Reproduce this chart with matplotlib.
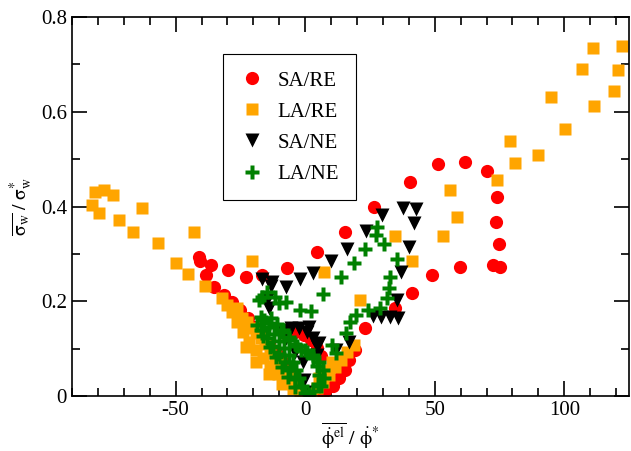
import matplotlib
matplotlib.use('Agg')
import matplotlib.pyplot as plt
from matplotlib.ticker import MultipleLocator

plt.rcParams['font.family'] = ['Liberation Serif', 'DejaVu Serif']
plt.rcParams['mathtext.fontset'] = 'stix'
plt.rcParams['axes.unicode_minus'] = False

# SA/RE (red circles)
sa_re_x = [-41.1, -36.4, -29.8, -22.9, -16.7, -7.0, 4.7, 15.5, 26.7, 40.3, 51.2, 61.6, 70.2,
           74.0, 73.6, 74.8, 72.5, 75.2, 59.7, 48.8, 41.1, 34.5, 22.9,
           -40.7, -38.4, -35.3, -31.4, -28.3, -25.2, -22.1, -19.4, -16.7, -14.0, -11.2, -8.5,
           -6.2, -3.9, -1.6, 1.6, 4.7, 7.8, 10.9, 13.2, 15.5, 17.1, 19.4,
           -7.0, -3.9, -0.4, 2.3, 4.7, 6.2]
sa_re_y = [0.294, 0.277, 0.266, 0.252, 0.256, 0.271, 0.303, 0.347, 0.400, 0.451, 0.489, 0.495, 0.476,
           0.421, 0.368, 0.320, 0.277, 0.273, 0.273, 0.256, 0.218, 0.186, 0.144,
           0.284, 0.256, 0.231, 0.214, 0.199, 0.182, 0.165, 0.146, 0.129, 0.112, 0.093, 0.072,
           0.051, 0.032, 0.015, 0.002, 0.004, 0.011, 0.021, 0.038, 0.055, 0.076, 0.097,
           0.129, 0.135, 0.129, 0.119, 0.102, 0.085]

# LA/RE (orange squares)
la_re_x = [-81.0, -77.5, -74.0, -82.2, -79.5, -71.7, -62.8, -66.3, -56.6, -50.0, -45.3, -43.0,
           -38.8, -32.2, -26.4, -20.5, -30.2, -28.3,
           -24.4, -22.5, -20.9, -19.0, -17.1, -15.5, -13.6, -11.6, -9.7, -7.8, -5.8, -3.9, -1.9,
           -26.4, -24.0, -21.7, -19.0, -16.3, -13.6, -10.5, -7.4, -4.7,
           -22.9, -19.0, -14.0, -8.9,
           2.3, 4.7, 7.0, 9.3, 11.6, 14.0, 16.3, 19.0, 5.4, 8.1, 10.5,
           21.3, 7.4, 34.5, 41.1, 53.1, 58.5, 55.8, 74.0, 81.0, 89.9, 79.1, 100.4, 95.0,
           111.6, 119.0, 107.0, 120.9, 111.2, 122.1]
la_re_y = [0.430, 0.436, 0.425, 0.404, 0.387, 0.372, 0.398, 0.347, 0.322, 0.281, 0.258, 0.347,
           0.233, 0.207, 0.186, 0.284, 0.193, 0.178,
           0.165, 0.157, 0.144, 0.133, 0.123, 0.110, 0.097, 0.083, 0.068, 0.053, 0.038, 0.023, 0.011,
           0.157, 0.135, 0.114, 0.097, 0.080, 0.063, 0.047, 0.030, 0.015,
           0.104, 0.072, 0.047, 0.025,
           0.008, 0.017, 0.030, 0.044, 0.061, 0.076, 0.093, 0.108, 0.038, 0.055, 0.072,
           0.203, 0.262, 0.337, 0.284, 0.337, 0.379, 0.436, 0.457, 0.491, 0.508, 0.538, 0.563, 0.631,
           0.612, 0.643, 0.690, 0.688, 0.734, 0.739]

# SA/NE (black triangles)
sa_ne_x = [29.5, 37.6, 42.6, 41.9, 23.6, 16.3, 39.9, 10.1, 36.8, 3.1, -1.9, -7.4, -12.8, -16.7,
           -13.2, 35.3, 32.9, 29.1, 26.0, 35.7,
           -14.7, -14.0, -8.5, -5.4, -2.3, 0.8, 3.1, 4.7, 4.7, -7.4, -3.9, -0.8, -0.4, 0.0,
           17.1, 12.0, 5.4, 1.6]
sa_ne_y = [0.383, 0.398, 0.394, 0.366, 0.349, 0.311, 0.315, 0.284, 0.262, 0.260, 0.246, 0.231, 0.241, 0.248,
           0.233, 0.203, 0.167, 0.167, 0.169, 0.165,
           0.203, 0.186, 0.140, 0.144, 0.144, 0.135, 0.123, 0.106, 0.087, 0.123, 0.093, 0.072, 0.034, 0.008,
           0.114, 0.097, 0.112, 0.146]

# LA/NE (green crosses)
la_ne_x = [27.9, 27.5, 30.6, 22.9, 19.0, 35.3, 14.0, 32.9, 32.2, 7.0, 31.4, 2.3, -1.9, 28.7, 24.4,
           19.8, 17.4, 15.9, 10.5, 12.0, -7.4, -11.6, -14.7, -17.8, -10.1, -16.7, -17.1, -14.0,
           -15.9, -14.0, -12.0, -10.1, -8.1, -6.2, -4.7, -3.5, -2.3, -1.2, 0.0,
           -13.2, -10.9, -8.5, -6.2, -3.9, -1.6,
           -17.1, -14.7, -12.4, -10.1, -7.8, -5.8, -3.9,
           0.8, 3.1, 4.7, 5.4, 5.0, 3.1, 1.6,
           -9.3, -6.2, -3.1, 0.0, 3.1, 5.4, 7.0, 7.4, 6.2,
           -18.6, -16.3, -13.6, -11.2, -8.9, -6.6, -3.9]
la_ne_y = [0.356, 0.339, 0.320, 0.311, 0.281, 0.290, 0.252, 0.252, 0.229, 0.216, 0.207, 0.180, 0.182, 0.186, 0.182,
           0.171, 0.157, 0.133, 0.108, 0.091, 0.199, 0.210, 0.220, 0.203, 0.197, 0.210, 0.167, 0.154,
           0.161, 0.146, 0.131, 0.116, 0.102, 0.087, 0.072, 0.055, 0.038, 0.021, 0.006,
           0.165, 0.152, 0.140, 0.125, 0.110, 0.097,
           0.140, 0.123, 0.106, 0.089, 0.072, 0.055, 0.036,
           0.093, 0.080, 0.063, 0.044, 0.025, 0.011, 0.004,
           0.135, 0.119, 0.106, 0.097, 0.087, 0.072, 0.055, 0.038, 0.021,
           0.150, 0.127, 0.104, 0.083, 0.061, 0.040, 0.019]

fig = plt.figure(figsize=(6.31, 4.51), dpi=100)
ax = fig.add_axes([0.114, 0.122, 0.883, 0.840])

ax.plot(sa_re_x, sa_re_y, 'o', color='#ff0000', ms=9.5, mec='none', label='SA/RE')
ax.plot(la_re_x, la_re_y, 's', color='#ffa500', ms=9, mec='none', label='LA/RE')
ax.plot(sa_ne_x, sa_ne_y, 'v', color='black', ms=9.5, mec='none', label='SA/NE')
ax.plot(la_ne_x, la_ne_y, 'P', color='#008000', ms=10.5, mec='none', label='LA/NE')

ax.set_xlim(-90, 125)
ax.set_ylim(0, 0.8)
ax.xaxis.set_major_locator(MultipleLocator(50))
ax.xaxis.set_minor_locator(MultipleLocator(10))
ax.yaxis.set_major_locator(MultipleLocator(0.2))
ax.yaxis.set_minor_locator(MultipleLocator(0.1))
ax.yaxis.set_major_formatter(plt.FuncFormatter(lambda v, p: '0' if v == 0 else f'{v:.1f}'))
ax.tick_params(which='both', direction='in', top=True, right=True, labelsize=15, width=1.2)
ax.tick_params(which='major', length=11)
ax.tick_params(which='minor', length=6)
for s in ax.spines.values():
    s.set_linewidth(1.2)

ax.set_xlabel(r'$\overline{\mathrm{\dot{\phi}^{el}}}\ /\ \mathrm{\dot{\phi}^{*}}$', fontsize=14, labelpad=0)
ax.set_ylabel(r'$\overline{\mathrm{\sigma_w}}\ /\ \mathrm{\sigma_w^{*}}$', fontsize=14, labelpad=4)

leg = ax.legend(loc='upper left', bbox_to_anchor=(0.253, 0.929), fontsize=15,
                fancybox=False, framealpha=1, edgecolor='black', handletextpad=0.6,
                labelspacing=0.55, borderpad=0.8, handlelength=1.2)
leg.get_frame().set_linewidth(0.8)

plt.savefig('out.png', dpi=100)
